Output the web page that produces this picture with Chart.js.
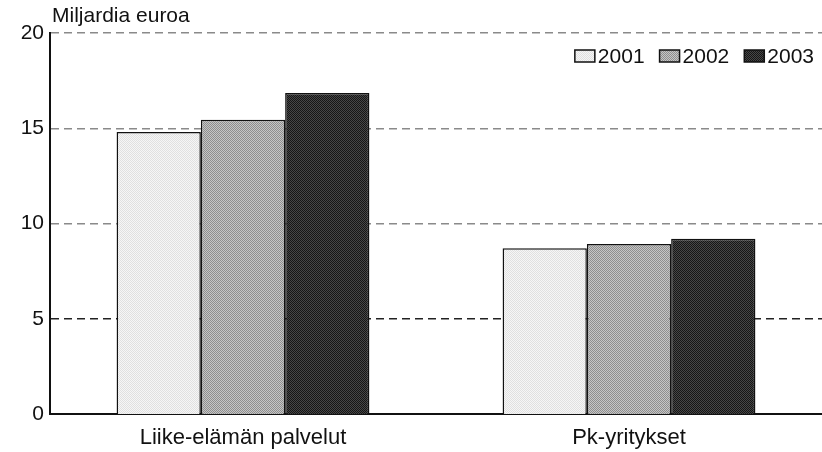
<!DOCTYPE html>
<html lang="fi">
<head>
  <meta charset="UTF-8" />
  <title>Miljardia euroa</title>
  <script src="https://cdn.jsdelivr.net/npm/chart.js"></script>
  <style>
    html, body { margin: 0; padding: 0; background: white; }
    #wrap { width: 822px; height: 452px; }
  </style>
</head>
<body>
  <div id="wrap"><canvas id="kaavio" width="822" height="452"></canvas></div>
  <script>
    const kategoriat = ["Liike-elämän palvelut", "Pk-yritykset"];
    const vuodet = ["2001", "2002", "2003"];
    const arvot2001 = [14.8, 8.7];
    const arvot2002 = [15.45, 8.92];
    const arvot2003 = [16.85, 9.2];
    const yTicks = [0, 5, 10, 15, 20];

    const fontti = "'Liberation Sans', Arial, sans-serif";

    // rasterikuvio (kaksi harmaata ruudukkona), näyttää alkuperäisen painojäljen
    function kuvio(a, b) {
      const p = document.createElement("canvas");
      p.width = 2; p.height = 2;
      const g = p.getContext("2d");
      g.fillStyle = a; g.fillRect(0, 0, 2, 2);
      g.fillStyle = b; g.fillRect(0, 0, 1, 1); g.fillRect(1, 1, 1, 1);
      return g.createPattern(p, "repeat");
    }
    const taytot = [
      kuvio("#f6f6f6", "#e0e0e0"),
      kuvio("#c6c6c6", "#8e8e8e"),
      kuvio("#474747", "#161616")
    ];

    // y-akselin otsikko vaakasuunnassa akselin yläpuolelle
    const yOtsikko = {
      id: "yOtsikko",
      afterDraw(chart) {
        const c = chart.ctx;
        c.save();
        c.font = "21px " + fontti;
        c.fillStyle = "#111";
        c.textBaseline = "alphabetic";
        c.fillText("Miljardia euroa", chart.chartArea.left + 2, chart.chartArea.top - 11);
        c.restore();
      }
    };

    // selite kuva-alan oikeaan yläkulmaan
    const selite = {
      id: "selite",
      afterDraw(chart) {
        const c = chart.ctx;
        const ds = chart.data.datasets;
        c.save();
        c.font = "21px " + fontti;
        c.textBaseline = "middle";
        const y = chart.chartArea.top + 23;
        let x = chart.chartArea.right - 8;
        const paikat = [];
        for (let i = ds.length - 1; i >= 0; i--) {
          const w = c.measureText(ds[i].label).width;
          x -= w;
          paikat[i] = x;
          x -= 23 + 15;
        }
        ds.forEach((d, i) => {
          const tx = paikat[i];
          c.fillStyle = d.backgroundColor;
          c.fillRect(tx - 23, y - 6, 20, 12);
          c.strokeStyle = "#111";
          c.lineWidth = 1.5;
          c.strokeRect(tx - 23, y - 6, 20, 12);
          c.fillStyle = "#111";
          c.fillText(d.label, tx, y + 1);
        });
        c.restore();
      }
    };

    const sarjat = [arvot2001, arvot2002, arvot2003].map((d, i) => ({
      label: vuodet[i],
      data: d,
      backgroundColor: taytot[i],
      borderColor: "#111",
      borderWidth: 1.5
    }));

    new Chart(document.getElementById("kaavio"), {
      type: "bar",
      data: { labels: kategoriat, datasets: sarjat },
      options: {
        responsive: false,
        animation: false,
        layout: { padding: { top: 33, right: 0, left: 0, bottom: 0 } },
        plugins: {
          legend: { display: false },
          tooltip: { enabled: false }
        },
        datasets: { bar: { categoryPercentage: 0.655, barPercentage: 1.0 } },
        scales: {
          x: {
            grid: { display: false },
            border: { color: "#111", width: 2 },
            afterFit: ax => { ax.height = 38; },
            ticks: {
              color: "#111",
              padding: 3,
              font: { family: fontti, size: 22 }
            }
          },
          y: {
            min: 0,
            max: 20,
            afterBuildTicks: ax => { ax.ticks = yTicks.map(v => ({ value: v })); },
            afterFit: ax => { ax.width = 50; },
            border: { color: "#111", width: 2, dash: [8, 5] },
            grid: {
              drawTicks: false,
              color: ctx => ctx.tick && ctx.tick.value === 5 ? "#222" : "#8a8a8a",
              lineWidth: ctx => ctx.tick && ctx.tick.value === 0 ? 0 : 1.5
            },
            ticks: {
              color: "#111",
              padding: 6,
              font: { family: fontti, size: 21 }
            }
          }
        }
      },
      plugins: [yOtsikko, selite]
    });
  </script>
</body>
</html>
